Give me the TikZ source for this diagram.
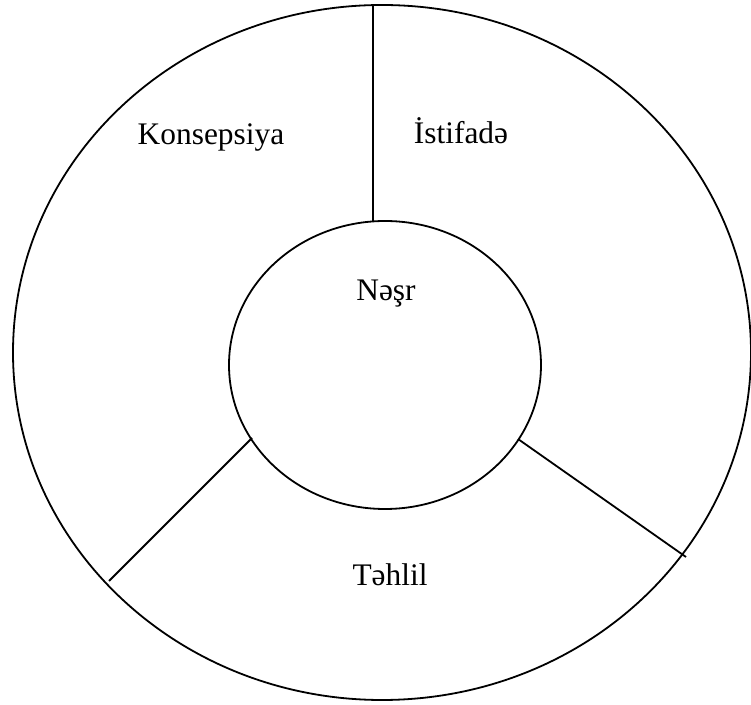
\documentclass[tikz,border=0pt]{standalone}
\usepackage{fontspec}
\setmainfont{Liberation Serif}
\usetikzlibrary{shapes.geometric}
\begin{document}
\begin{tikzpicture}[x=0.5pt,y=-0.5pt,
  ring/.style={draw, ellipse, line width=0.9pt, inner sep=0pt},
  spoke/.style={line width=0.9pt},
  label/.style={anchor=base, inner sep=0pt, font=\fontsize{15.7}{18}\selectfont}]
  \useasboundingbox (0,0) rectangle (751,705);
  % outer ring and inner hub
  \node[ring, minimum width=369pt, minimum height=347.5pt] (outer) at (382,352.5) {};
  \node[ring, minimum width=156pt, minimum height=144pt] (hub) at (385,365) {};
  % spoke end points on the hub and on the outer ring
  \coordinate (hubTop) at (373,221);
  \coordinate (ringTop) at (373,5);
  \coordinate (hubLeft) at (252,438);
  \coordinate (ringLeft) at (109,581);
  \coordinate (hubRight) at (518,439);
  \coordinate (ringRight) at (686,557);
  % spokes dividing the ring into three sectors
  \draw[spoke] (hubTop) -- (ringTop);
  \draw[spoke] (hubLeft) -- (ringLeft);
  \draw[spoke] (hubRight) -- (ringRight);
  % sector labels
  \node[label] (konsepsiya) at (211,145) {Konsepsiya};
  \node[label] (istifade) at (461,144) {İstifadə};
  \node[label] (nesr) at (386,301) {Nəşr};
  \node[label] (tehlil) at (390,586) {Təhlil};
\end{tikzpicture}
\end{document}
